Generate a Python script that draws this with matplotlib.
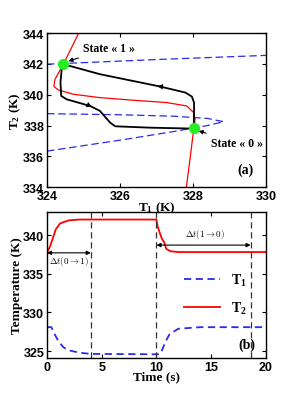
import numpy as np
import matplotlib.pyplot as plt

plt.rcParams['mathtext.fontset'] = 'custom'
plt.rcParams['mathtext.rm'] = 'Liberation Serif:bold'
plt.rcParams['mathtext.bf'] = 'Liberation Serif:bold'
plt.rcParams['mathtext.it'] = 'Liberation Serif:bold'
plt.rcParams['xtick.direction'] = 'in'
plt.rcParams['ytick.direction'] = 'in'

# ---- panel (a): phase plane ----
red_T1 = [324.87, 324.45, 324.22, 324.19, 324.31, 324.72, 325.45, 326.37, 327.28, 327.83, 328.02, 328.06, 328.02, 327.93, 327.82]
red_T2 = [344.0, 341.98, 341.0, 340.53, 340.31, 340.03, 339.81, 339.64, 339.49, 339.27, 338.84, 338.40, 337.75, 336.02, 334.0]

blue_up_T1 = [324.0, 327.0, 330.0]
blue_up_T2 = [341.98, 342.28, 342.55]
blue_mid_T1 = [324.0, 326.0, 327.5, 328.4, 328.84, 328.4, 327.5, 326.0, 324.0]
blue_mid_T2 = [338.77, 338.70, 338.6, 338.46, 338.25, 338.0, 337.62, 337.05, 336.34]

up_T1 = [328.02, 328.03, 328.03, 327.97, 327.79, 327.10, 325.45, 324.45]
up_T2 = [337.86, 338.84, 339.49, 339.88, 340.14, 340.53, 341.33, 341.98]
low_T1 = [324.45, 324.40, 324.37, 324.39, 324.54, 325.18, 325.45, 325.73, 325.87, 326.83, 328.02]
low_T2 = [341.93, 341.57, 340.81, 339.92, 339.70, 339.27, 338.95, 338.19, 337.95, 337.86, 337.80]

state_T1 = [324.45, 328.02]
state_T2 = [342.0, 337.84]

# ---- panel (b): time series ----
t_T2 = [0, 0.3, 0.5, 0.8, 1.2, 2, 3, 10, 10.1, 10.3, 10.5, 10.7, 10.9, 11.3, 12, 20]
T2 = [337.7, 338.6, 339.44, 340.73, 341.5, 341.9, 342.0, 342.0, 341.16, 340.3, 339.5, 339.1, 338.2, 337.9, 337.8, 337.8]
t_T1 = [0, 0.4, 0.7, 1.0, 1.5, 2, 3, 4, 10.3, 10.5, 10.8, 11.2, 12, 14, 20]
T1 = [328.1, 328.1, 327.2, 326.4, 325.5, 325.1, 324.8, 324.65, 324.6, 325.1, 326.15, 327.2, 327.9, 328.1, 328.1]
vlines_t = [4, 10, 18.6]

fig = plt.figure(figsize=(2.9, 4.1), dpi=100)
ax1 = fig.add_axes([0.162, 0.541, 0.755, 0.376])
ax2 = fig.add_axes([0.162, 0.124, 0.755, 0.357])

labfont = {'family': 'Liberation Serif', 'weight': 'bold', 'size': 9.5}

ax1.plot(red_T1, red_T2, color='red', lw=0.9)
ax1.plot(blue_up_T1, blue_up_T2, color='#2a2aee', lw=0.9, ls=(0, (6, 3)))
ax1.plot(blue_mid_T1, blue_mid_T2, color='#2a2aee', lw=0.9, ls=(0, (6, 3)))
ax1.plot(up_T1, up_T2, color='black', lw=1.3)
ax1.plot(low_T1, low_T2, color='black', lw=1.3)
ax1.annotate('', xy=(326.95, 340.57), xytext=(327.15, 340.52),
             arrowprops=dict(arrowstyle='-|>', color='black', lw=0, mutation_scale=10))
ax1.annotate('', xy=(325.3, 339.13), xytext=(325.15, 339.30),
             arrowprops=dict(arrowstyle='-|>', color='black', lw=0, mutation_scale=10))
ax1.plot(state_T1, state_T2, 'o', color='#22ee22', ms=7, zorder=5)

ax1.annotate('State « 1 »', xy=(324.55, 342.15), xytext=(325.0, 343.0),
             fontsize=8.5, fontweight='bold', family='Liberation Serif', va='center',
             arrowprops=dict(arrowstyle='-|>', color='black', lw=0.8, mutation_scale=6, shrinkA=2, shrinkB=1))
ax1.annotate('State « 0 »', xy=(328.12, 337.68), xytext=(328.5, 336.88),
             fontsize=8.5, fontweight='bold', family='Liberation Serif', va='center',
             arrowprops=dict(arrowstyle='-|>', color='black', lw=0.8, mutation_scale=6, shrinkA=2, shrinkB=1))
ax1.text(329.45, 335.15, '(a)', fontsize=10, fontweight='bold', family='Liberation Serif', ha='center', va='center')

ax1.set_xlim(324, 330)
ax1.set_ylim(334, 344)
ax1.set_xticks([324, 326, 328, 330])
ax1.set_yticks([334, 336, 338, 340, 342, 344])
ax1.set_xlabel(r'T$_1$ (K)', fontdict=labfont, labelpad=-2)
ax1.set_ylabel(r'T$_2$ (K)', fontdict=labfont, labelpad=0)

ax2.plot(t_T1, T1, color='#2a2aee', lw=1.3, ls=(0, (4, 2.5)), label=r'T$_1$')
ax2.plot(t_T2, T2, color='red', lw=1.3, label=r'T$_2$')
for tv in vlines_t:
    ax2.axvline(tv, color='#333333', lw=0.9, ls=(0, (5, 3)))

ax2.annotate('', xy=(0, 337.7), xytext=(4, 337.7),
             arrowprops=dict(arrowstyle='<|-|>', color='black', lw=0.8, mutation_scale=6, shrinkA=0, shrinkB=0))
ax2.text(2.0, 336.7, r'$\Delta t(0 \rightarrow 1)$', fontsize=6.5, ha='center', va='center', math_fontfamily='cm')
ax2.annotate('', xy=(10, 338.7), xytext=(18.6, 338.7),
             arrowprops=dict(arrowstyle='<|-|>', color='black', lw=0.8, mutation_scale=6, shrinkA=0, shrinkB=0))
ax2.text(14.4, 340.2, r'$\Delta t(1 \rightarrow 0)$', fontsize=6.5, ha='center', va='center', math_fontfamily='cm')
ax2.text(18.25, 325.85, '(b)', fontsize=10, fontweight='bold', family='Liberation Serif', ha='center', va='center')

leg = ax2.legend(loc='center', bbox_to_anchor=(0.77, 0.44), frameon=False, handlelength=2.6,
                 labelspacing=0.9, handletextpad=0.8,
                 prop={'family': 'Liberation Serif', 'weight': 'bold', 'size': 10})

ax2.set_xlim(0, 20)
ax2.set_ylim(324.1, 343)
ax2.set_xticks([0, 5, 10, 15, 20])
ax2.set_yticks([325, 330, 335, 340])
ax2.set_xlabel('Time (s)', fontdict=labfont, labelpad=-2)
ax2.set_ylabel('Temperature (K)', fontdict=labfont, labelpad=0)

for ax in (ax1, ax2):
    ax.tick_params(top=True, right=True, length=3, width=0.8, pad=2)
    for lbl in ax.get_xticklabels() + ax.get_yticklabels():
        lbl.set_fontfamily('Liberation Sans')
        lbl.set_fontweight('bold')
        lbl.set_fontsize(9)
    for s in ax.spines.values():
        s.set_linewidth(1.0)

fig.savefig('out.png', dpi=100)
